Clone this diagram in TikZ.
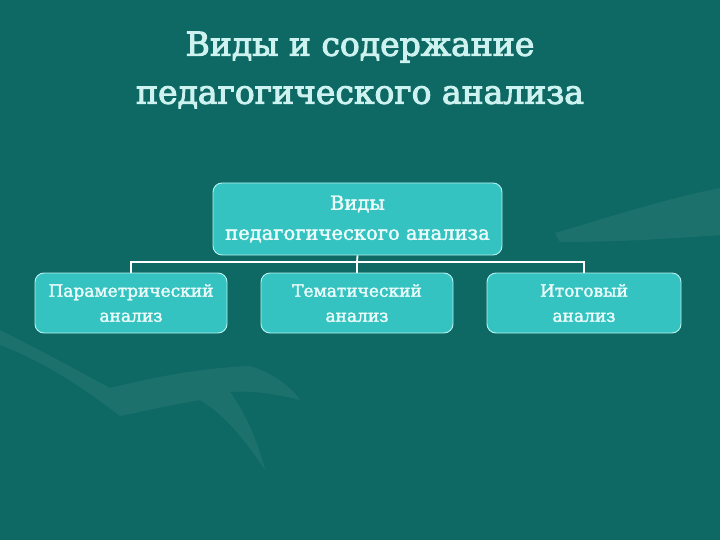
\documentclass[tikz,border=0pt]{standalone}
\usepackage{fontspec}
\setmainfont{DejaVu Serif}
\newfontfamily\boldish[FakeBold=3]{DejaVu Serif}
\newfontfamily\boldishb[FakeBold=2]{DejaVu Serif}
\definecolor{bg}{HTML}{0E6964}
\definecolor{boxfill}{HTML}{34C3C0}
\definecolor{boxedge}{HTML}{B8F2F0}
\definecolor{titlecol}{HTML}{CDF2EF}
\definecolor{boxtext}{HTML}{EAFBFA}
\begin{document}
\begin{tikzpicture}[x=1pt,y=-1pt,
  kind/.style={draw=boxedge, line width=0.9pt, fill=boxfill, rounded corners=9pt, minimum width=#1, align=center, text=boxtext, inner sep=0pt},
  link/.style={draw=white, line width=1.8pt},
  deco/.style={fill=white, opacity=0.06},
  titletext/.style={text=titlecol, font=\boldish\fontsize{33}{48}\selectfont, align=center}]
\fill[bg] (0,0) rectangle (720,540);
\useasboundingbox (0,0) rectangle (720,540);
% faint background decoration (hands)
\fill[deco] (0,330) .. controls (40,350) and (80,372) .. (110,388) .. controls (150,378) and (200,368) .. (250,366) .. controls (270,372) and (290,385) .. (300,400) .. controls (280,395) and (255,390) .. (230,392) .. controls (250,420) and (260,450) .. (265,470) .. controls (245,440) and (225,415) .. (200,400) .. controls (170,405) and (140,412) .. (120,416) .. controls (80,385) and (40,360) .. (0,345) -- cycle;
\fill[deco] (555,233) .. controls (600,220) and (660,200) .. (720,188) -- (720,235) .. controls (680,238) and (620,242) .. (560,242) -- cycle;
\node[titletext] (title) at (360,70) {Виды и содержание\\педагогического анализа};
\node[kind=289pt, minimum height=72pt, font=\boldishb\fontsize{19.5}{30}\selectfont] (top) at (357.5,219) {Виды\\педагогического анализа};
\node[kind=192pt, minimum height=60pt, font=\boldishb\fontsize{17}{25}\selectfont] (left) at (131,303) {Параметрический\\анализ};
\node[kind=192pt, minimum height=60pt, font=\boldishb\fontsize{17}{25}\selectfont] (mid) at (357,303) {Тематический\\анализ};
\node[kind=194pt, minimum height=60pt, font=\boldishb\fontsize{17}{25}\selectfont] (right) at (584,303) {Итоговый\\анализ};
\coordinate (hub) at (357,262);
\draw[link] (top.south) -- (hub);
\draw[link] (hub) -- (mid.north);
\draw[link] (left.north) |- (hub) -| (right.north);
\end{tikzpicture}
\end{document}
